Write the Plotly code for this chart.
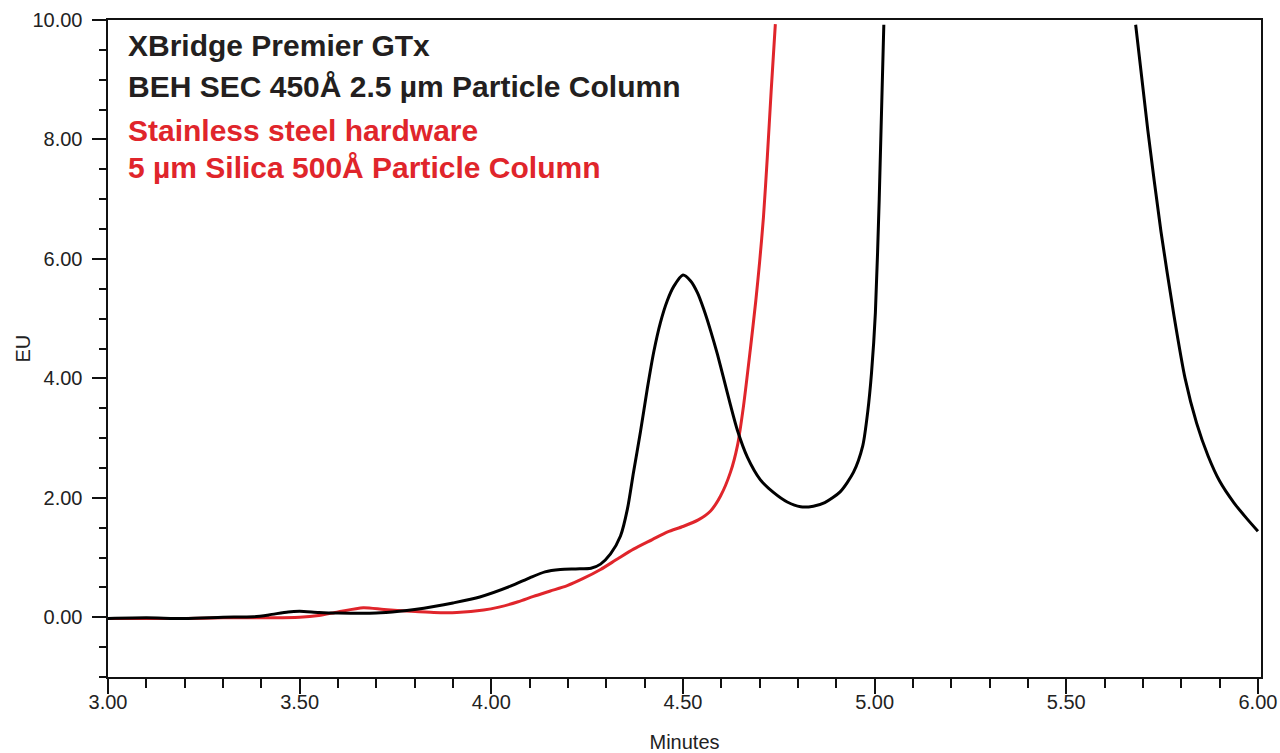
import plotly.graph_objects as go

# Black trace: XBridge Premier GTx BEH SEC 450Å 2.5 µm
black_x = [3.00, 3.10, 3.20, 3.30, 3.38, 3.42, 3.47, 3.50, 3.55, 3.60, 3.70, 3.76, 3.80,
           3.85, 3.90, 3.97, 4.05, 4.10, 4.14, 4.18, 4.22, 4.26, 4.285, 4.311, 4.337, 4.355,
           4.371, 4.389, 4.407, 4.424, 4.441, 4.459, 4.476, 4.50, 4.52, 4.538, 4.554, 4.572,
           4.59, 4.607, 4.624, 4.642, 4.668, 4.702, 4.736, 4.772, 4.807, 4.84, 4.87,
           4.91, 4.945, 4.969, 4.982, 4.992, 5.002, 5.012, 5.024,
           None,
           5.681, 5.713, 5.747, 5.781, 5.81, 5.84, 5.87, 5.90, 5.937, 5.97, 6.00]
black_y = [-0.02, -0.01, -0.02, 0.00, 0.01, 0.04, 0.09, 0.10, 0.08, 0.07, 0.07, 0.10, 0.13,
           0.18, 0.24, 0.34, 0.52, 0.66, 0.76, 0.80, 0.81, 0.82, 0.89, 1.06, 1.36, 1.81,
           2.43, 3.10, 3.83, 4.45, 4.93, 5.30, 5.54, 5.73, 5.63, 5.43, 5.16, 4.80,
           4.40, 3.98, 3.55, 3.13, 2.68, 2.30, 2.09, 1.93, 1.85, 1.86, 1.92,
           2.10, 2.43, 2.87, 3.44, 4.10, 5.10, 7.00, 9.92,
           None,
           9.92, 8.14, 6.46, 5.05, 4.00, 3.25, 2.70, 2.28, 1.92, 1.66, 1.44]

# Red trace: Stainless steel hardware, 5 µm Silica 500Å
red_x = [3.00, 3.10, 3.20, 3.30, 3.40, 3.50, 3.55, 3.60, 3.666, 3.72, 3.79, 3.85, 3.91,
         3.98, 4.02, 4.07, 4.11, 4.154, 4.198, 4.24, 4.285, 4.33, 4.371, 4.42, 4.46, 4.50,
         4.54, 4.572, 4.598, 4.624, 4.642, 4.658, 4.676, 4.69, 4.70, 4.71, 4.72, 4.73, 4.741]
red_y = [-0.02, -0.02, -0.02, -0.01, -0.01, 0.00, 0.03, 0.09, 0.16, 0.13, 0.10, 0.08, 0.08,
         0.12, 0.17, 0.26, 0.35, 0.44, 0.53, 0.65, 0.80, 0.98, 1.14, 1.30, 1.43, 1.52,
         1.63, 1.78, 2.03, 2.43, 2.87, 3.54, 4.50, 5.30, 5.95, 6.70, 7.70, 8.80, 9.93]

label_lines = ["XBridge Premier GTx", "BEH SEC 450Å 2.5 µm Particle Column",
               "Stainless steel hardware", "5 µm Silica 500Å Particle Column"]
x_title = "Minutes"
y_title = "EU"

BLACK = "#000000"
RED = "#e0252b"
TEXT_DARK = "#231f20"
FONT = "Liberation Sans, Arial, Helvetica, sans-serif"

W, H = 1280, 753
ML, MR, MT, MB = 108, 19, 20, 76
PW, PH = W - ML - MR, H - MT - MB

fig = go.Figure()
fig.add_trace(go.Scatter(x=red_x, y=red_y, mode="lines",
                         line=dict(color=RED, width=3, shape="spline", smoothing=0.7),
                         showlegend=False, connectgaps=False, hoverinfo="x+y"))
fig.add_trace(go.Scatter(x=black_x, y=black_y, mode="lines",
                         line=dict(color=BLACK, width=3, shape="spline", smoothing=0.7),
                         showlegend=False, connectgaps=False, hoverinfo="x+y"))

axis_common = dict(showgrid=False, zeroline=False, showline=True, linecolor="#111111",
                   linewidth=2, mirror=True, ticks="outside", tickcolor="#111111",
                   tickwidth=2, tickformat=".2f", automargin=False,
                   tickfont=dict(family=FONT, size=20, color="#222222"))

fig.update_xaxes(range=[3.0, 6.008], dtick=0.5, tick0=3.0, ticklen=15,
                 ticklabelstandoff=-9,
                 minor=dict(ticks="outside", dtick=0.1, tick0=3.0, ticklen=9,
                            tickwidth=2, tickcolor="#111111", showgrid=False),
                 title=dict(text=x_title, font=dict(family=FONT, size=20, color="#222222"),
                            standoff=30),
                 **axis_common)
fig.update_yaxes(range=[-1.0, 10.0], dtick=2, tick0=0, ticklen=14,
                 ticksuffix="\u00a0",
                 minor=dict(ticks="outside", dtick=0.5, tick0=0, ticklen=7,
                            tickwidth=2, tickcolor="#111111", showgrid=False),
                 **axis_common)

# y-axis title placed as rotated text left of the tick labels
fig.add_annotation(text=y_title, xref="paper", yref="paper",
                   x=(22 - ML) / PW, y=0.5, xanchor="center", yanchor="middle",
                   textangle=-90, showarrow=False,
                   font=dict(family=FONT, size=20, color="#222222"))

# pixel rows (centres) of the four label lines
ys = [45.5, 86, 130, 167.5]
cols = [TEXT_DARK, TEXT_DARK, RED, RED]
for txt, yy, c in zip(label_lines, ys, cols):
    fig.add_annotation(text="<b>" + txt + "</b>", xref="paper", yref="paper",
                       x=(126 - ML) / PW, y=1 - (yy - MT) / PH,
                       xanchor="left", yanchor="middle", showarrow=False,
                       font=dict(family=FONT, size=30, color=c))

fig.update_layout(width=W, height=H, plot_bgcolor="white", paper_bgcolor="white",
                  margin=dict(l=ML, r=MR, t=MT, b=MB, autoexpand=False))

fig.write_html("out.html", config={"displayModeBar": False},
               post_script="document.body.style.margin='0px';document.body.style.overflow='hidden';")
